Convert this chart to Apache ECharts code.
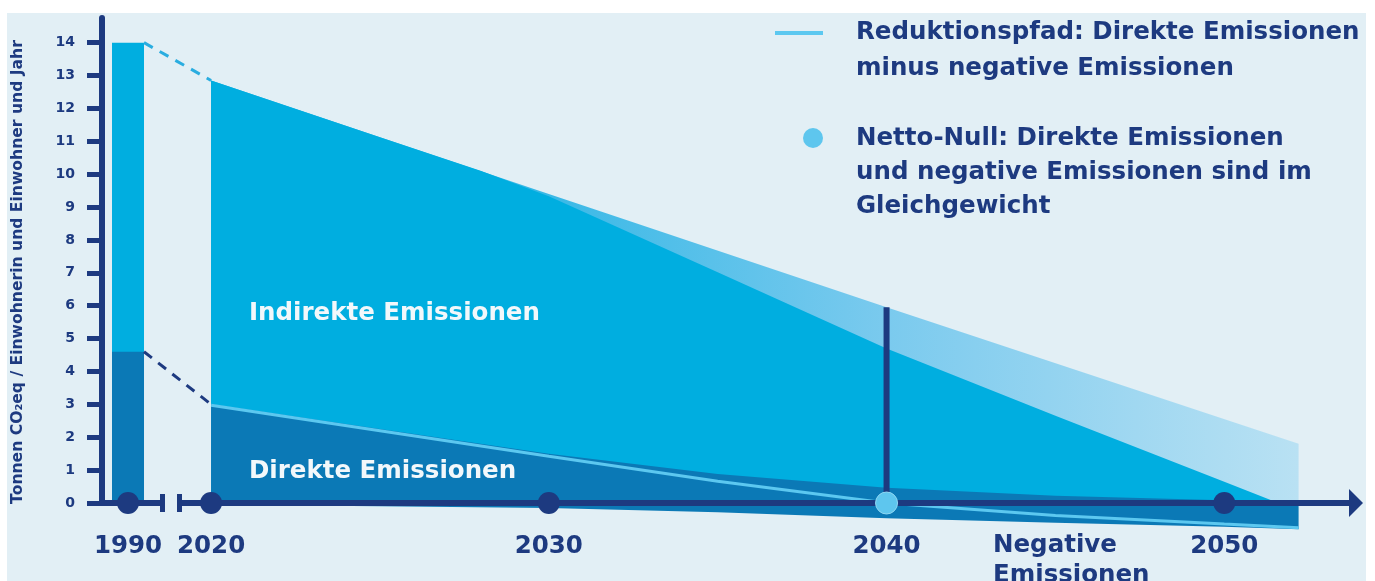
<!DOCTYPE html>
<html>
<head>
<meta charset="utf-8">
<script src="https://cdn.jsdelivr.net/npm/echarts@6/dist/echarts.min.js"></script>
<style>
  html, body { margin: 0; padding: 0; background: #ffffff; }
  #panel { position: absolute; left: 7px; top: 13px; width: 1359px; height: 568px; background: #e2eff5; }
  #chart { position: absolute; left: 0; top: 0; width: 1375px; height: 581px; }
</style>
</head>
<body>
<div id="panel"></div>
<div id="chart"></div>
<script>
// ---- data (t CO2eq per inhabitant and year) ----
const tickYears = [1990, 2020, 2030, 2040, 2050];
const yTicks = [0, 1, 2, 3, 4, 5, 6, 7, 8, 9, 10, 11, 12, 13, 14];

const total1990 = 14.0;
const direct1990 = 4.6;

// upper edge of the whole emission band (incl. the fading range)
const totalYears = [2020, 2030, 2040, 2052.2];
const totalUpper = [12.85, 9.4, 5.95, 1.8];

// upper edge of the indirect emissions
const indirectYears = [2020, 2025, 2028, 2030, 2035, 2040, 2045, 2050, 2051.6];
const indirectTop = [12.85, 11.12, 10.1, 9.33, 7.02, 4.7, 2.65, 0.65, 0];

// direct emissions, negative emissions and the reduction path
const flowYears = [2020, 2025, 2030, 2035, 2040, 2045, 2050, 2052.2];
const directTop = [3.0, 2.25, 1.5, 0.88, 0.46, 0.22, 0.08, 0.05];
const negativeEm = [-0.05, -0.1, -0.15, -0.28, -0.46, -0.6, -0.72, -0.8];
const reductionPath = [2.97, 2.2, 1.42, 0.66, 0, -0.38, -0.64, -0.75];

const netZeroYear = 2040;

// ---- styling ----
const NAVY = '#1d3a80';
const CYAN = '#00aee0';
const DARK = '#0b79b6';
const PATH = '#5cc8f0';
const FONT = '"DejaVu Sans", "Liberation Sans", Arial, sans-serif';
const BIG = 'bold 24.5px ' + FONT;

// The time axis is broken between 1990 and 2020: 1990 is drawn just left of the break.
const BREAK_SHIFT = 27.54;
const pos = y => (y < 2000 ? y + BREAK_SHIFT : y);

const X_MIN = 2016.77, X_MAX = 2053.9;
const GRID = { left: 102, right: 19, top: 18, bottom: 78 };
const plotWidth = 1375 - GRID.left - GRID.right;
const pxPerYear = plotWidth / (X_MAX - X_MIN);
const BAR_W = 32;
const barEdge = pos(1990) + (BAR_W / 2) / pxPerYear;

const zip = (xs, ys) => xs.map((x, i) => [x, ys[i]]);
const totalAtNetZero = totalUpper[totalYears.indexOf(netZeroYear)];

const lineBase = { type: 'line', symbol: 'none', silent: true, animation: false, clip: false };

const chart = echarts.init(document.getElementById('chart'), null, { renderer: 'canvas' });

chart.setOption({
  backgroundColor: 'transparent',
  animation: false,
  grid: GRID,
  xAxis: {
    type: 'value', min: X_MIN, max: X_MAX, z: 5,
    splitLine: { show: false },
    axisTick: { show: false },
    axisLine: {
      show: true, onZero: false,
      symbol: ['none', 'triangle'], symbolSize: [28, 14],
      lineStyle: { color: NAVY, width: 6 }
    },
    axisLabel: {
      customValues: tickYears.map(pos),
      formatter: v => {
        const i = tickYears.findIndex(y => Math.abs(pos(y) - v) < 1e-6);
        return i >= 0 ? String(tickYears[i]) : '';
      },
      margin: 31, color: NAVY, fontSize: 24.5, fontWeight: 'bold', fontFamily: FONT
    }
  },
  yAxis: {
    type: 'value', min: 0, max: 14.75, z: 5,
    splitLine: { show: false },
    axisLine: { show: true, lineStyle: { color: NAVY, width: 6 } },
    axisTick: { show: true, customValues: yTicks, length: 15, lineStyle: { color: NAVY, width: 5 } },
    axisLabel: {
      customValues: yTicks, margin: 27, color: NAVY,
      fontSize: 14, fontWeight: 'bold', fontFamily: FONT
    }
  },
  series: [
    // fading band above the indirect emissions
    Object.assign({}, lineBase, {
      data: zip(totalYears, totalUpper), z: 1,
      lineStyle: { width: 0 },
      areaStyle: {
        opacity: 1,
        color: new echarts.graphic.LinearGradient(0, 0, 1, 0, [
          { offset: 0, color: '#1fb0e2' },
          { offset: 0.3, color: '#38b8e6' },
          { offset: 0.62, color: '#7acaee' },
          { offset: 1, color: '#b9e1f3' }
        ])
      }
    }),
    // indirect emissions
    Object.assign({}, lineBase, {
      data: zip(indirectYears, indirectTop), z: 2,
      lineStyle: { width: 0 },
      areaStyle: { color: CYAN, opacity: 1 }
    }),
    // direct emissions
    Object.assign({}, lineBase, {
      data: zip(flowYears, directTop), z: 3,
      lineStyle: { width: 0 },
      areaStyle: { color: DARK, opacity: 1 }
    }),
    // negative emissions
    Object.assign({}, lineBase, {
      data: zip(flowYears, negativeEm), z: 3,
      lineStyle: { width: 0 },
      areaStyle: { color: DARK, opacity: 1 }
    }),
    // reduction path: direct minus negative emissions
    Object.assign({}, lineBase, {
      data: zip(flowYears, reductionPath), z: 4,
      lineStyle: { color: PATH, width: 3 }
    }),
    // 1990 bar: total and direct part
    {
      type: 'bar', silent: true, animation: false, barWidth: BAR_W, z: 2,
      data: [[pos(1990), total1990]],
      itemStyle: { color: CYAN }
    },
    {
      type: 'bar', silent: true, animation: false, barWidth: BAR_W, barGap: '-100%', z: 3,
      data: [[pos(1990), direct1990]],
      itemStyle: { color: DARK }
    },
    // dashed connectors across the axis break
    Object.assign({}, lineBase, {
      data: [[barEdge, total1990], [2020, totalUpper[0]]], z: 4,
      lineStyle: { color: '#2aade0', width: 3, type: [10, 8] }
    }),
    Object.assign({}, lineBase, {
      data: [[barEdge, direct1990], [2020, directTop[0]]], z: 4,
      lineStyle: { color: NAVY, width: 3, type: [10, 8] }
    }),
    // net-zero marker line
    Object.assign({}, lineBase, {
      data: [[netZeroYear, 0], [netZeroYear, totalAtNetZero]], z: 4,
      lineStyle: { color: NAVY, width: 6 }
    }),
    // year dots on the time axis
    {
      type: 'scatter', silent: true, animation: false, clip: false, z: 10,
      symbolSize: 22, itemStyle: { color: NAVY, opacity: 1 },
      data: tickYears.filter(y => y !== netZeroYear).map(y => [pos(y), 0])
    },
    {
      type: 'scatter', silent: true, animation: false, clip: false, z: 11,
      symbolSize: 22, itemStyle: { color: '#5ec6ee', opacity: 1, borderColor: '#8fd8f3', borderWidth: 1 },
      data: [[netZeroYear, 0]]
    }
  ],
  graphic: [
    // axis title
    {
      type: 'text', x: 18, y: 272, rotation: Math.PI / 2, silent: true,
      style: {
        text: 'Tonnen CO₂eq / Einwohnerin und Einwohner und Jahr',
        fill: NAVY, font: 'bold 15.6px ' + FONT, align: 'center', verticalAlign: 'middle'
      }
    },
    // axis break
    { type: 'rect', silent: true, z: 20, shape: { x: 164, y: 496, width: 15, height: 14 }, style: { fill: '#e2eff5' } },
    { type: 'rect', silent: true, z: 21, shape: { x: 160, y: 494, width: 5, height: 18 }, style: { fill: NAVY } },
    { type: 'rect', silent: true, z: 21, shape: { x: 177, y: 494, width: 5, height: 18 }, style: { fill: NAVY } },
    // area labels
    {
      type: 'text', x: 249, y: 314, silent: true, z: 20,
      style: { text: 'Indirekte Emissionen', fill: '#f2f8fb', font: BIG, verticalAlign: 'middle' }
    },
    {
      type: 'text', x: 249, y: 472, silent: true, z: 20,
      style: { text: 'Direkte Emissionen', fill: '#f2f8fb', font: BIG, verticalAlign: 'middle' }
    },
    {
      type: 'text', x: 993, y: 531, silent: true, z: 20,
      style: { text: 'Negative\nEmissionen', fill: NAVY, font: BIG, lineHeight: 30, verticalAlign: 'top' }
    },
    // legend
    { type: 'line', silent: true, z: 20, shape: { x1: 775, y1: 33, x2: 823, y2: 33 }, style: { stroke: PATH, lineWidth: 4 } },
    {
      type: 'text', x: 856, y: 15, silent: true, z: 20,
      style: {
        text: 'Reduktionspfad: Direkte Emissionen\nminus negative Emissionen',
        fill: NAVY, font: BIG, lineHeight: 36, verticalAlign: 'top'
      }
    },
    { type: 'circle', silent: true, z: 20, shape: { cx: 813, cy: 138, r: 10 }, style: { fill: '#5ec6ee' } },
    {
      type: 'text', x: 856, y: 122, silent: true, z: 20,
      style: {
        text: 'Netto-Null: Direkte Emissionen\nund negative Emissionen sind im\nGleichgewicht',
        fill: NAVY, font: BIG, lineHeight: 34, verticalAlign: 'top'
      }
    }
  ]
});
</script>
</body>
</html>
